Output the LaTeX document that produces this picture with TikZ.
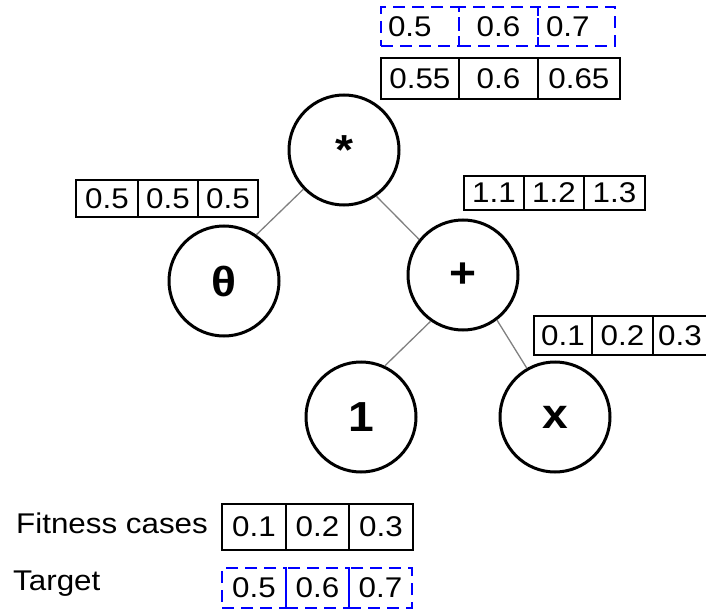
\documentclass[tikz,border=0pt]{standalone}
\usepackage{fontspec}
\setmainfont[FakeStretch=1.1]{Liberation Sans}
\begin{document}
\begin{tikzpicture}[x=1pt,y=-1pt,
  cell/.style={draw, line width=1.8pt, inner sep=0pt, anchor=north west, font=\fontsize{28.5}{30}\selectfont},
  dcell/.style={cell, draw=blue, dash pattern=on 12pt off 7pt, line width=2pt},
  lcell/.style={text width=#1, align=left},
  op/.style={circle, draw, line width=3pt, minimum size=110pt, inner sep=0pt, font=\bfseries\fontsize{42}{44}\selectfont},
  edge/.style={draw=gray, line width=1.3pt},
  lbl/.style={anchor=base west, inner sep=0pt, font=\fontsize{28.5}{30}\selectfont}]
\useasboundingbox (0,0) rectangle (706,612);

% tree nodes
\node[op] (star)  at (344,150) {*};
\node[op] (theta) at (224,281) {θ};
\node[op] (plus)  at (463,275) {+};
\node[op] (one)   at (361,417) {1};
\node[op] (xx)    at (555,417) {x};

\draw[edge] (star.224) -- (theta.55);
\draw[edge] (star.-55) -- (plus.141);
\draw[edge] (plus.235) -- (one.65);
\draw[edge] (plus.-53) -- (xx.120);

% top dashed row
\node[dcell, minimum width=78pt, minimum height=39pt, lcell=64pt] (t1) at (380,6) {0.5};
\node[dcell, minimum width=79pt, minimum height=39pt] (t2) at (458,6) {0.6};
\node[dcell, minimum width=77pt, minimum height=39pt, lcell=61pt] (t3) at (537,6) {0.7};

% output of *
\node[cell, minimum width=78pt, minimum height=41pt] (s1) at (380,57) {0.55};
\node[cell, minimum width=79pt, minimum height=41pt] (s2) at (458,57) {0.6};
\node[cell, minimum width=82pt, minimum height=41pt] (s3) at (537,57) {0.65};

% theta values
\node[cell, minimum width=62pt, minimum height=37pt] (a1) at (75,179) {0.5};
\node[cell, minimum width=60pt, minimum height=37pt] (a2) at (137,179) {0.5};
\node[cell, minimum width=60pt, minimum height=37pt] (a3) at (197,179) {0.5};

% plus values
\node[cell, minimum width=60pt, minimum height=34pt] (p1) at (463,175) {1.1};
\node[cell, minimum width=60pt, minimum height=34pt] (p2) at (523,175) {1.2};
\node[cell, minimum width=61pt, minimum height=34pt] (p3) at (583,175) {1.3};

% x values
\node[cell, minimum width=58pt, minimum height=39pt] (x1) at (533,315) {0.1};
\node[cell, minimum width=61pt, minimum height=39pt] (x2) at (591,315) {0.2};
\node[cell, minimum width=54pt, minimum height=39pt] (x3) at (652,315) {0.3};

% legend
\node[lbl] (fc) at (16,533) {Fitness cases};
\node[lbl] (tg) at (13,590) {Target};
\node[cell, minimum width=64pt, minimum height=46pt] (f1) at (221,503) {0.1};
\node[cell, minimum width=63pt, minimum height=46pt] (f2) at (285,503) {0.2};
\node[cell, minimum width=64pt, minimum height=46pt] (f3) at (348,503) {0.3};
\node[dcell, minimum width=64pt, minimum height=40pt] (g1) at (221,567) {0.5};
\node[dcell, minimum width=63pt, minimum height=40pt] (g2) at (285,567) {0.6};
\node[dcell, minimum width=63pt, minimum height=40pt] (g3) at (348,567) {0.7};
\end{tikzpicture}
\end{document}
